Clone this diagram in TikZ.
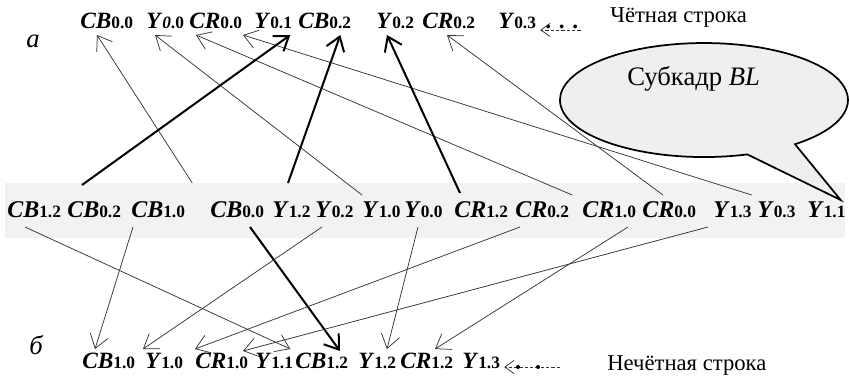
\documentclass[tikz,border=0pt]{standalone}
\usepackage{fontspec}
\setmainfont{Liberation Serif}
\usetikzlibrary{arrows.meta,calc}
\definecolor{bandgray}{HTML}{F2F2F2}
\definecolor{callgray}{HTML}{EFEFEF}
\newcommand{\tk}[2]{\textbf{\textit{#1}}{\fontsize{13}{13}\selectfont\bfseries #2}}
\begin{document}
\begin{tikzpicture}[x=0.75pt,y=-0.75pt,
  tok/.style={inner sep=0pt, anchor=base west, font=\fontsize{17.5}{17.5}\selectfont},
  mtok/.style={inner sep=0pt, anchor=base west, font=\fontsize{18}{18}\selectfont},
  lab/.style={inner sep=0pt, anchor=base west, font=\fontsize{17}{17}\selectfont},
  thinarr/.style={draw=black!80, line width=0.55pt, -{Straight Barb[length=10pt,width=14pt]}},
  boldarr/.style={draw=black, line width=1.5pt, -{Straight Barb[length=10pt,width=14pt]}},
  dashedarr/.style={draw=black!80, line width=0.55pt, dash pattern=on 2.5pt off 1.5pt, -{Straight Barb[length=7pt,width=10pt]}},
  dotnode/.style={circle, fill=black, inner sep=0pt, minimum size=3pt},
  callout/.style={draw=black, line width=1.3pt, fill=callgray, line join=miter},
]
\useasboundingbox (0,0) rectangle (849,379);
% band
\fill[bandgray] (5,183) rectangle (845,238);
% top row
\node[tok] (tCB00) at (80,28) {\tk{CB}{0.0}};
\node[tok] (tY00) at (146,28) {\tk{Y}{\textit{0}.0}};
\node[tok] (tCR00) at (189,28) {\tk{CR}{0.0}};
\node[tok] (tY01) at (254,28) {\tk{Y}{0.1}};
\node[tok] (tCB02) at (298,28) {\tk{CB}{0.2}};
\node[tok] (tY02) at (376,28) {\tk{Y}{0.2}};
\node[tok] (tCR02) at (422,28) {\tk{CR}{0.2}};
\node[tok] (tY03) at (498,28) {\tk{Y}{0.3}};
\node[tok] (tdots) at (545,28) {\textbf{. . .}};
\node[lab] (even) at (610,22) {Чётная строка};
\node[lab, font=\fontsize{20}{20}\selectfont] (la) at (26,47) {\textit{а}};
% middle row
\node[mtok] (mCB12) at (7,217) {\tk{CB}{1.2}};
\node[mtok] (mCB02) at (67,217) {\tk{CB}{0.2}};
\node[mtok] (mCB10) at (131,217) {\tk{CB}{1.0}};
\node[mtok] (mCB00) at (210,217) {\tk{CB}{0.0}};
\node[mtok] (mY12) at (272,217) {\tk{Y}{1.2}};
\node[mtok] (mY02) at (315,217) {\tk{Y}{0.2}};
\node[mtok] (mY10) at (362,217) {\tk{Y}{1.0}};
\node[mtok] (mY00) at (404,217) {\tk{Y}{0.0}};
\node[mtok] (mCR12) at (454,217) {\tk{CR}{1.2}};
\node[mtok] (mCR02) at (515,217) {\tk{CR}{0.2}};
\node[mtok] (mCR10) at (582,217) {\tk{CR}{1.0}};
\node[mtok] (mCR00) at (642,217) {\tk{CR}{0.0}};
\node[mtok] (mY13) at (713,217) {\tk{Y}{1.3}};
\node[mtok] (mY03) at (757,217) {\tk{Y}{0.3}};
\node[mtok] (mY11) at (807,217) {\tk{Y}{1.1}};
% bottom row
\node[tok] (bCB10) at (82,368) {\tk{CB}{1.0}};
\node[tok] (bY10) at (145,368) {\tk{Y}{1.0}};
\node[tok] (bCR10) at (195,368) {\tk{CR}{1.0}};
\node[tok] (bY11) at (255,368) {\tk{Y}{1.1}};
\node[tok] (bCB12) at (295,368) {\tk{CB}{1.2}};
\node[tok] (bY12) at (358,368) {\tk{Y}{1.2}};
\node[tok] (bCR12) at (400,368) {\tk{CR}{1.2}};
\node[tok] (bY13) at (462,368) {\tk{Y}{1.3}};
\node[lab] (odd) at (607,370) {Нечётная строка};
\node[lab, font=\fontsize{20}{20}\selectfont] (lb) at (29,354) {\textit{б}};
% callout (ellipse with pointer to Y1.1)
\coordinate (calltip) at ($(mY11.base east)+(-5,-17)$);
\draw[callout] (747.3,154.4) arc[start angle=72.5, end angle=410.8, x radius=144, y radius=57] -- (calltip) -- cycle;
\node[lab, font=\fontsize{20}{20}\selectfont] (bltext) at (627,85) {Субкадр \textit{BL}};
% top arrows
\draw[thinarr] ($(mCB10.base east)+(7,-34)$) -- ($(tCB00.base west)+(17,7)$);
\draw[thinarr] ($(mY10.base west)+(0,-22)$) -- ($(tY00.base west)+(9,7)$);
\draw[thinarr] ($(mCR02.base east)+(3,-22)$) -- ($(tCR00.base west)+(7,7)$);
\draw[thinarr] ($(mY13.base east)+(0,-22)$) -- ($(tY01.base west)+(-11,7)$);
\draw[boldarr] ($(mCB02.base west)+(15,-32)$) -- ($(tY01.base east)+(-2,7)$);
\draw[boldarr] ($(mY12.base west)+(16,-34)$) -- ($(tCB02.base east)+(-11,7)$);
\draw[boldarr] ($(mCR12.base west)+(6,-24)$) -- ($(tY02.base west)+(11,7)$);
\draw[thinarr] ($(mCR00.base west)+(21,-22)$) -- ($(tCR02.base west)+(25,7)$);
\draw[dashedarr] ($(tdots.base east)+(2,2)$) -- ($(tY03.base east)+(4,2)$);
% bottom arrows
\draw[thinarr] ($(mCB12.base west)+(18,10)$) -- ($(bY11.base east)+(-3,-19)$);
\draw[thinarr] ($(mCB10.base west)+(2,10)$) -- ($(bCB10.base west)+(13,-19)$);
\draw[boldarr] ($(mCB00.base west)+(40,10)$) -- ($(bCB12.base west)+(45,-17)$);
\draw[thinarr] ($(mY02.base west)+(7,10)$) -- ($(bY10.base west)+(-2,-19)$);
\draw[thinarr] ($(mY00.base west)+(14,10)$) -- ($(bY12.base west)+(29,-19)$);
\draw[thinarr] ($(mCR02.base west)+(5,10)$) -- ($(bCR10.base west)+(0,-19)$);
\draw[thinarr] ($(mCR10.base west)+(46,10)$) -- ($(bCR12.base west)+(35,-19)$);
\draw[thinarr] ($(mY13.base west)+(-5,10)$) -- ($(bY11.base west)+(-12,-17)$);
\coordinate (bdashend) at (560,367);
\draw[dashedarr] (bdashend) -- ($(bY13.base east)+(4,-1)$);
\node[dotnode] (bd1) at (518,367) {};
\node[dotnode] (bd2) at (538,367) {};
\end{tikzpicture}
\end{document}
